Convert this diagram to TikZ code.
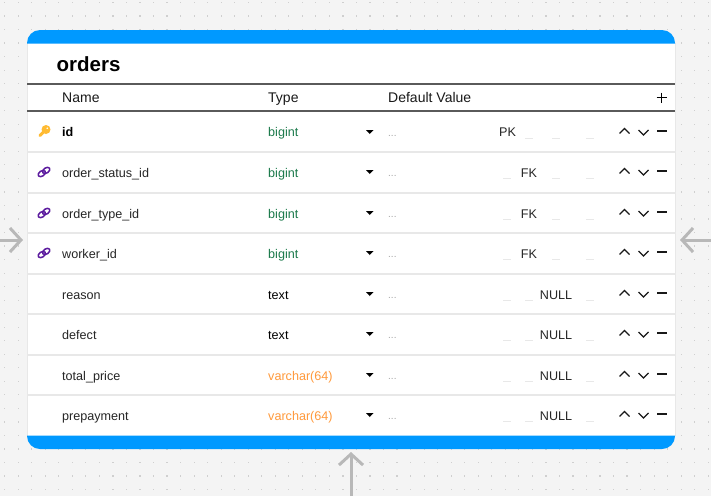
\documentclass[tikz,border=0pt]{standalone}
\usepackage{fontspec}
\setmainfont{Liberation Sans}
\usetikzlibrary{arrows.meta}
\definecolor{canvasgray}{HTML}{F4F4F4}
\definecolor{dotgray}{HTML}{CFCFCF}
\definecolor{headblue}{HTML}{0099FF}
\definecolor{rulegray}{HTML}{5A5A5A}
\definecolor{rowgray}{HTML}{E8E8E8}
\definecolor{linkgray}{HTML}{B8B8B8}
\definecolor{keyyellow}{HTML}{FFBB33}
\definecolor{chainpurple}{HTML}{5B1A9E}
\definecolor{typegreen}{HTML}{1B7A4B}
\definecolor{typeorange}{HTML}{FF9A3C}
\tikzset{
  headtext/.style={anchor=base west,font=\fontsize{14}{16}\selectfont,text=black!90,inner sep=0pt},
  fieldtext/.style={anchor=base west,font=\fontsize{12.6}{15}\selectfont,text=black!85,inner sep=0pt},
  flagtext/.style={anchor=base,font=\fontsize{12.6}{15}\selectfont,text=black!85,inner sep=0pt},
  linkarrow/.style={draw=linkgray,line width=3pt,-{Straight Barb[length=11pt,width=24pt,line width=3pt]}},
  ctrl/.style={line width=1.3pt,black!90,line join=miter}
}
% one blank flag under a column
\newcommand{\blankflag}[2]{\draw[rowgray,line width=1pt] (#1-4,#2+6.5) -- (#1+4,#2+6.5);}
% controls at the end of a row
\newcommand{\rowctrl}[1]{
  \fill[black] (366,#1-2) -- (373.5,#1-2) -- (369.75,#1+2) -- cycle;
  \node[text=black!35,font=\fontsize{10}{12}\selectfont,inner sep=0pt,anchor=base west] at (388,#1+4) {...};
  \draw[ctrl] (619.5,#1+1.5) -- (624.5,#1-3.5) -- (629.5,#1+1.5);
  \draw[ctrl] (638.5,#1-2) -- (643.5,#1+3) -- (648.5,#1-2);
  \draw[ctrl,line width=1.5pt] (657,#1-1) -- (667,#1-1);
}
\begin{document}
\begin{tikzpicture}[x=1pt,y=-1pt]
\useasboundingbox (0,0) rectangle (711,496);
\fill[canvasgray] (0,0) rectangle (711,496);
% dots
\foreach \i in {0,...,52}{
  \foreach \j in {0,...,36}{
    \fill[dotgray] ({4.7+13.53*\i-0.6},{2.5+13.53*\j-0.6}) rectangle ++(1.2,1.2);
  }
}
% card
\fill[white] (27,43) rectangle (675,436);
\draw[rowgray,line width=1pt] (27.5,43) -- (27.5,436);
\draw[rowgray,line width=1pt] (675.5,43) -- (675.5,436);
\fill[headblue] (27,43.5) -- (27,43) arc[start angle=180,end angle=270,radius=13] -- (662,30) arc[start angle=270,end angle=360,radius=13] -- (675,43.5) -- cycle;
\fill[headblue] (27,435.5) -- (675,435.5) -- (675,436) arc[start angle=0,end angle=90,radius=13] -- (40,449) arc[start angle=90,end angle=180,radius=13] -- cycle;
\node[anchor=base west,inner sep=0pt,font=\fontsize{20.5}{24}\selectfont\bfseries] (title) at (56.5,71) {orders};
% header
\draw[rulegray,line width=1.7pt] (27,83.7) -- (675,83.7);
\draw[rulegray,line width=1.7pt] (27,110.7) -- (675,110.7);
\node[headtext] (colname) at (62,102) {Name};
\node[headtext] (coltype) at (268,102) {Type};
\node[headtext] (coldefault) at (388,102) {Default Value};
\draw[black,line width=1.5pt] (656.5,97.5) -- (666.5,97.5);
\draw[black,line width=1.5pt] (661.5,92.5) -- (661.5,102.5);
% row separators
\foreach \y in {152,192.5,233,273.5,314,354.5,395}{
  \draw[rowgray,line width=2pt] (27,\y) -- (675,\y);
}
% rows
\node[fieldtext,font=\fontsize{12.6}{15}\selectfont\bfseries,text=black] (rowid) at (62,136.5) {id};
\node[fieldtext,text=typegreen] (typeid) at (268,136.5) {bigint};
\rowctrl{132}
\node[flagtext] (flagid) at (507.5,136.5) {PK};
\blankflag{529}{132}\blankflag{556}{132}\blankflag{590}{132}
\foreach \y/\fname in {172/order\_status\_id,213/order\_type\_id,253/worker\_id}{
  \node[fieldtext] at (62,\y+5) {\fname};
  \node[fieldtext,text=typegreen] at (268,\y+5) {bigint};
  \rowctrl{\y}
  \node[flagtext] at (529,\y+5) {FK};
  \blankflag{507}{\y}\blankflag{556}{\y}\blankflag{590}{\y}
  % chain icon
  \begin{scope}[shift={(44,\y)},rotate=35]
    \draw[chainpurple,line width=1.5pt] (-2.7,0) ellipse (4pt and 2.6pt);
    \draw[chainpurple,line width=1.5pt] (2.7,0) ellipse (4pt and 2.6pt);
  \end{scope}
}
\foreach \y/\fname/\ftype/\tcol in {294/reason/text/black,334/defect/text/black,375/total\_price/varchar(64)/typeorange,415/prepayment/varchar(64)/typeorange}{
  \node[fieldtext] at (62,\y+5) {\fname};
  \node[fieldtext,text=\tcol] at (268,\y+5) {\ftype};
  \rowctrl{\y}
  \node[flagtext] at (556,\y+5) {NULL};
  \blankflag{507}{\y}\blankflag{529}{\y}\blankflag{590}{\y}
}
% key icon
\draw[keyyellow,line width=3pt,line cap=round] (40,135.5) -- (45,130.5);
\fill[keyyellow] (46,129.5) circle (4.5pt);
\fill[white] (47.3,128.2) circle (0.9pt);
% links
\coordinate (leftfrom) at (0,240);
\coordinate (leftto) at (23,240);
\coordinate (rightfrom) at (711,240);
\coordinate (rightto) at (680,240);
\coordinate (downfrom) at (351,496);
\coordinate (downto) at (351,452);
\draw[linkarrow] (leftfrom) -- (leftto);
\draw[linkarrow] (rightfrom) -- (rightto);
\draw[linkarrow] (downfrom) -- (downto);
\end{tikzpicture}
\end{document}
